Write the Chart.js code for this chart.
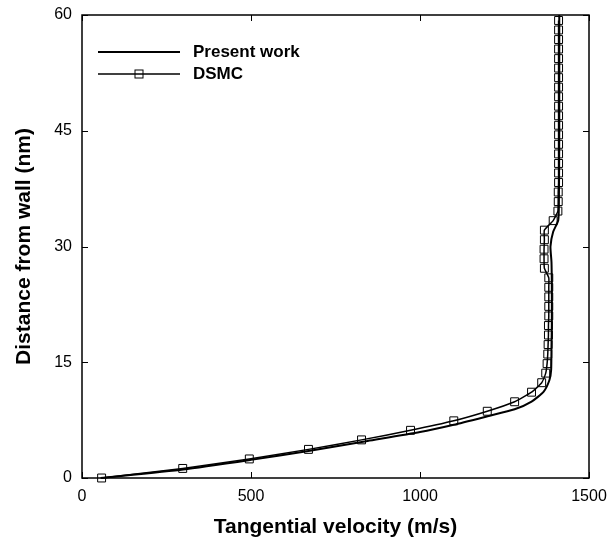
<!DOCTYPE html>
<html>
<head>
<meta charset="utf-8">
<script src="https://cdn.jsdelivr.net/npm/chart.js@4"></script>
<style>
  html, body { margin: 0; padding: 0; background: #fff; }
  canvas { display: block; }
</style>
</head>
<body>
<canvas id="profile" width="609" height="542"></canvas>
<script>
const presentX = [55, 300, 500, 670, 845, 1000, 1100, 1200, 1280, 1330, 1366, 1383, 1388, 1389, 1390, 1390, 1389, 1386, 1394, 1409, 1411, 1412, 1412];
const presentY = [0, 1.1, 2.35, 3.5, 4.8, 5.95, 6.9, 8.0, 8.9, 9.9, 11.2, 12.7, 14, 17, 20, 25, 28, 30, 31.9, 33.4, 36, 45, 60];

const dsmcX = [58, 298, 495, 670, 827, 972, 1100, 1199, 1280, 1330,
               1360, 1372, 1376, 1378, 1379, 1380, 1380, 1381, 1381, 1381,
               1381, 1381, 1368, 1367, 1367, 1368, 1368, 1394, 1408, 1409,
               1409, 1410, 1410, 1410, 1410, 1410, 1410, 1410, 1410, 1410,
               1410, 1410, 1410, 1410, 1410, 1410, 1410, 1410, 1410];
const dsmcY = [0, 1.24, 2.47, 3.71, 4.94, 6.18, 7.41, 8.65, 9.88, 11.12,
               12.35, 13.59, 14.82, 16.06, 17.29, 18.53, 19.76, 21.0, 22.24, 23.47,
               24.71, 25.94, 27.18, 28.41, 29.65, 30.88, 32.12, 33.35, 34.59, 35.82,
               37.06, 38.29, 39.53, 40.76, 42.0, 43.24, 44.47, 45.71, 46.94, 48.18,
               49.41, 50.65, 51.88, 53.12, 54.35, 55.59, 56.82, 58.06, 59.29];

const xTicks = [0, 500, 1000, 1500];
const yTicks = [0, 15, 30, 45, 60];
const seriesNames = ['Present work', 'DSMC'];

const FONT = '"Liberation Sans", Arial, sans-serif';
const zip = (xs, ys) => xs.map((v, i) => ({ x: v, y: ys[i] }));

// ——— box with inward ticks on all four sides ———
const frame = {
  id: 'frame',
  afterDatasetsDraw(chart) {
    const { ctx, chartArea: a, scales: { x, y } } = chart;
    ctx.save();
    ctx.strokeStyle = '#000';
    ctx.lineWidth = 1.5;
    ctx.strokeRect(a.left, a.top, a.right - a.left, a.bottom - a.top);
    ctx.lineWidth = 1;
    ctx.beginPath();
    xTicks.forEach(v => {
      const px = Math.round(x.getPixelForValue(v)) + 0.5;
      ctx.moveTo(px, a.bottom); ctx.lineTo(px, a.bottom - 6);
      ctx.moveTo(px, a.top);    ctx.lineTo(px, a.top + 6);
    });
    yTicks.forEach(v => {
      const py = Math.round(y.getPixelForValue(v)) + 0.5;
      ctx.moveTo(a.left, py);  ctx.lineTo(a.left + 6, py);
      ctx.moveTo(a.right, py); ctx.lineTo(a.right - 6, py);
    });
    ctx.stroke();
    ctx.restore();
  }
};

// ——— legend inside the plot, top left ———
const insideLegend = {
  id: 'insideLegend',
  afterDraw(chart) {
    const { ctx, chartArea: a } = chart;
    const x0 = a.left + 16, x1 = a.left + 98, tx = a.left + 111;
    ctx.save();
    ctx.strokeStyle = '#000';
    ctx.fillStyle = '#000';
    ctx.font = 'bold 17px ' + FONT;
    ctx.textBaseline = 'middle';
    chart.data.datasets.forEach((ds, i) => {
      const yy = a.top + 37 + i * 22;
      ctx.lineWidth = ds.borderWidth;
      ctx.beginPath(); ctx.moveTo(x0, yy); ctx.lineTo(x1, yy); ctx.stroke();
      if (ds.pointRadius > 0) {
        ctx.lineWidth = 1;
        ctx.strokeRect((x0 + x1) / 2 - 4, yy - 4, 8, 8);
      }
      ctx.fillText(seriesNames[i], tx, yy);
    });
    ctx.restore();
  }
};

new Chart(document.getElementById('profile').getContext('2d'), {
  type: 'line',
  data: {
    datasets: [{
      label: seriesNames[0],
      data: zip(presentX, presentY),
      borderColor: '#000',
      borderWidth: 2,
      pointRadius: 0,
      tension: 0.2,
      fill: false,
      clip: false,
    }, {
      label: seriesNames[1],
      data: zip(dsmcX, dsmcY),
      borderColor: '#000',
      borderWidth: 1.5,
      pointStyle: 'rect',
      pointRadius: 5.6,
      pointBorderWidth: 1,
      pointBorderColor: '#000',
      pointBackgroundColor: 'rgba(255,255,255,0)',
      tension: 0.15,
      fill: false,
      clip: false,
    }]
  },
  options: {
    responsive: false,
    animation: false,
    layout: { padding: { left: 0, top: 15, right: 20, bottom: 0 } },
    plugins: { legend: { display: false }, tooltip: { enabled: false } },
    scales: {
      x: {
        type: 'linear',
        min: 0, max: 1500,
        afterBuildTicks: s => { s.ticks = xTicks.map(v => ({ value: v })); },
        grid: { display: false, drawTicks: false },
        border: { display: false },
        ticks: { color: '#000', padding: 9, maxRotation: 0, callback: v => String(v), font: { family: FONT, size: 16 } },
        title: {
          display: true, text: 'Tangential velocity (m/s)', color: '#000',
          font: { family: FONT, size: 21, weight: 'bold' }, padding: { top: 0, bottom: 2 }
        },
        afterFit: s => { s.height = 64; s.paddingLeft = 0; s.paddingRight = 0; }
      },
      y: {
        type: 'linear',
        min: 0, max: 60,
        afterBuildTicks: s => { s.ticks = yTicks.map(v => ({ value: v })); },
        grid: { display: false, drawTicks: false },
        border: { display: false },
        ticks: { color: '#000', padding: 10, callback: v => String(v), font: { family: FONT, size: 16 } },
        title: {
          display: true, text: 'Distance from wall (nm)', color: '#000',
          font: { family: FONT, size: 21, weight: 'bold' }, padding: { top: 12, bottom: 0 }
        },
        afterFit: s => { s.width = 82; s.paddingTop = 0; s.paddingBottom = 0; }
      }
    }
  },
  plugins: [frame, insideLegend]
});
</script>
</body>
</html>
